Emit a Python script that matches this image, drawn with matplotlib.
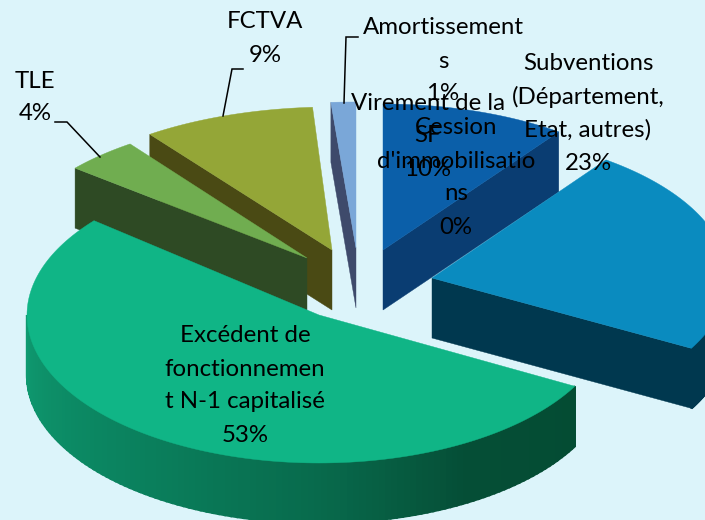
import numpy as np
import matplotlib
matplotlib.use("Agg")
import matplotlib.pyplot as plt
from matplotlib.colors import to_rgb

# --- data ---
categories = ["Virement de la\nSF", "Subventions\n(Département,\nEtat, autres)",
              "Excédent de\nfonctionnemen\nt N-1 capitalisé", "TLE", "FCTVA",
              "Amortissement\ns", "Cession\nd'immobilisatio\nns"]
percents = [10, 23, 53, 4, 9, 1, 0]

# --- layout / style (one entry per slice, in data order) ---
apex_x = [383, 432, 319, 307, 332, 356, 430]
apex_y = [250, 278, 315, 258, 250, 248, 250]
radius_x = [299, 296, 292, 301, 310, 400, 300]
radius_y = [146, 146, 148, 141, 143, 146, 146]
top_colors = ["#0b5fa9", "#0a8bbf", "#10b586", "#70ad50", "#94a637", "#7aa7d8", "#7aa7d8"]
side_colors = ["#0a3d72", "#00384f", "#054a34", "#2e4a24", "#4a4a14", "#3e4a6b", "#3e4a6b"]
label_x = [428, 588, 245, 35, 265, 443, 456]
label_top = [103, 64, 336, 81, 22, 28, 128]
draw_order = [5, 4, 3, 0, 1, 2]
depth = 60
background = "#dcf4fa"
wall_stop_angles = [118.8, 150, 180, 215, 270]
wall_stop_colors = ["#044c33", "#054e36", "#086a4c", "#0a7f5c", "#0f9a70"]
line_step = 33

W, H = 705, 520
fig = plt.figure(figsize=(W / 100, H / 100), dpi=100, facecolor=background)
ax = fig.add_axes([0, 0, 1, 1])
ax.set_xlim(0, W)
ax.set_ylim(H, 0)
ax.axis("off")


def rim(i, theta):
    t = np.radians(theta)
    return (apex_x[i] + radius_x[i] * np.sin(t), apex_y[i] - radius_y[i] * np.cos(t))


def poly(points, color, z, lw=0.3):
    ax.fill([p[0] for p in points], [p[1] for p in points], facecolor=color,
            edgecolor=color, linewidth=lw, zorder=z)


def wall_color(theta):
    rgb = np.array([to_rgb(c) for c in wall_stop_colors])
    return tuple(np.interp(theta, wall_stop_angles, rgb[:, k]) for k in range(3))


bounds = 3.6 * np.concatenate([[0], np.cumsum(percents)])
for z, i in enumerate(draw_order):
    start, end = bounds[i], bounds[i + 1]
    apex = (apex_x[i], apex_y[i])
    down = lambda p: (p[0], p[1] + depth)
    # radial cut face, visible on the slice edge facing the viewer
    if percents[i] > 0 and i != 2:
        edge_theta = end if end <= 180 else start
        e = rim(i, edge_theta)
        poly([apex, e, down(e), down(apex)], side_colors[i], z * 10)
    # outer wall on the front half
    lo, hi = max(start, 90), min(end, 270)
    if hi > lo:
        grid = np.linspace(lo, hi, 120)
        for a, b in zip(grid[:-1], grid[1:]):
            pa, pb = rim(i, a), rim(i, b)
            col = wall_color((a + b) / 2) if i == 2 else side_colors[i]
            poly([pa, pb, down(pb), down(pa)], col, z * 10 + 1, lw=1.6)
    # top face
    arc = [rim(i, t) for t in np.linspace(start, end, 160)]
    poly([apex] + arc, top_colors[i], z * 10 + 2)

# leader lines
leaders = [([344, 346, 358], [103, 37, 37]),
           ([223, 232, 243], [116, 69, 69]),
           ([100, 67, 55], [157, 122, 122])]
for lx, ly in leaders:
    ax.plot(lx, ly, color="black", lw=1.1, zorder=200, solid_joinstyle="miter")

# labels, each line placed on the label's line grid
for i, name in enumerate(categories):
    lines = name.split("\n") + [f"{percents[i]}%"]
    for n, line in enumerate(lines):
        ax.text(label_x[i], label_top[i] + n * line_step, line, ha="center", va="center",
                fontsize=17.3, family=["Lato", "DejaVu Sans"], color="black", zorder=300)

fig.savefig("out.png", dpi=100, facecolor=background)
